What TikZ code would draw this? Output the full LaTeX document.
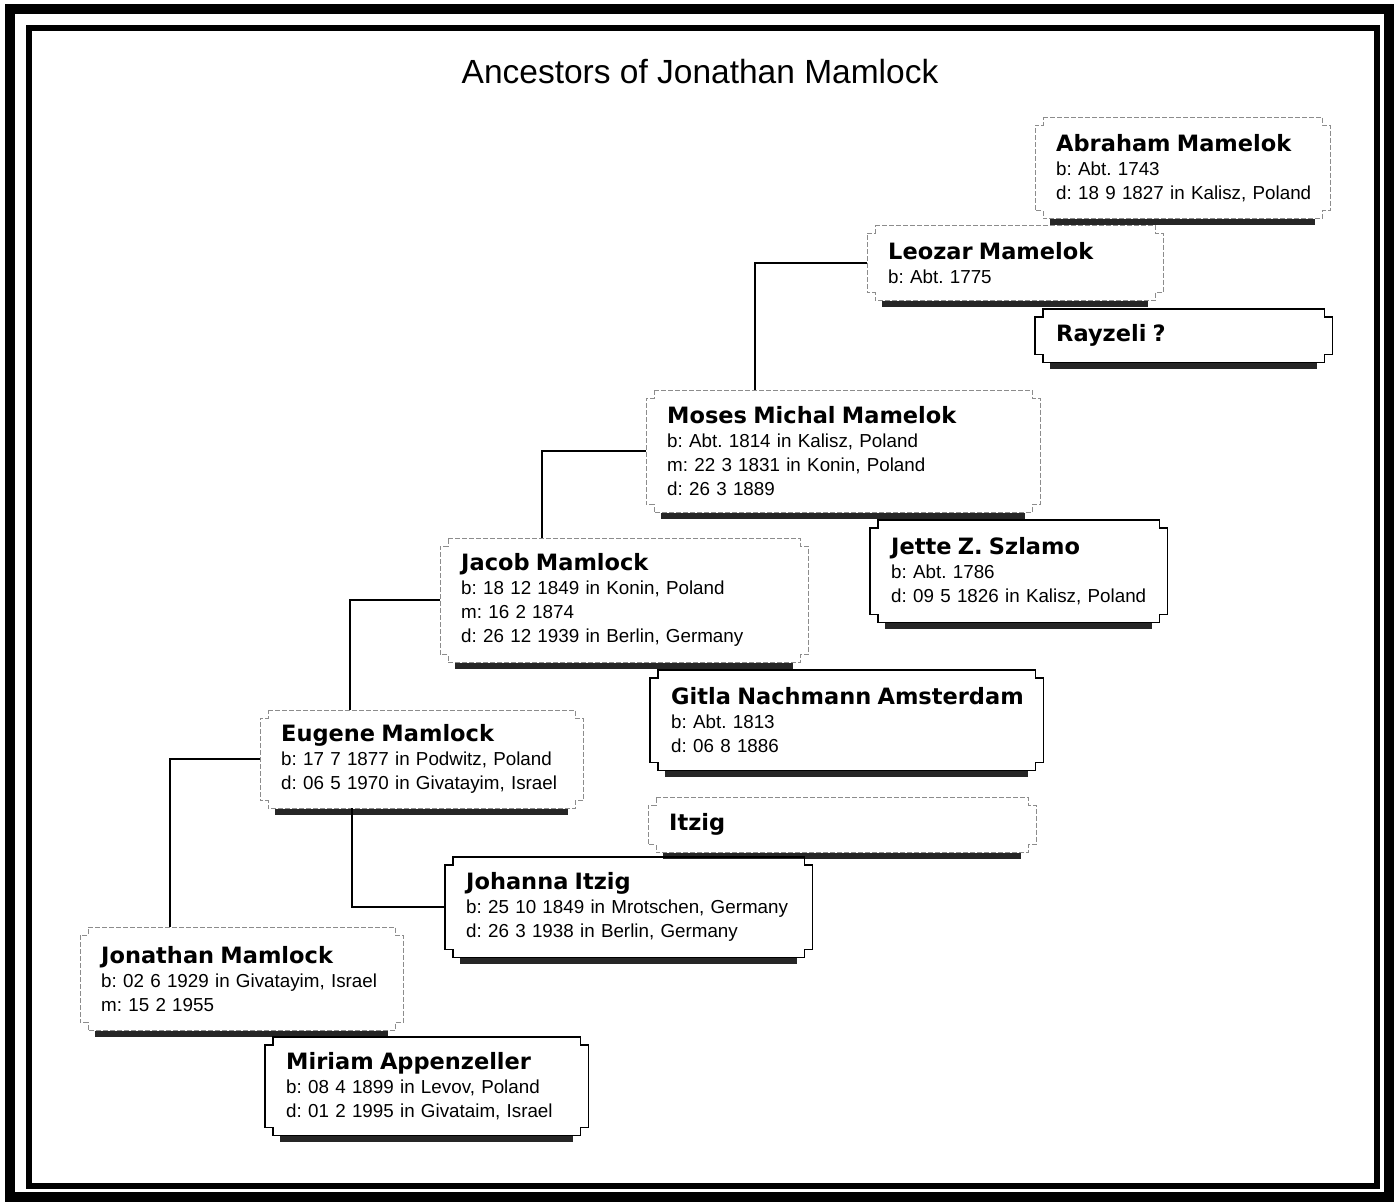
\documentclass[tikz,border=0pt]{standalone}
\usepackage{fontspec}
\setmainfont{Liberation Sans}
\newfontfamily\namefont{DejaVu Sans}
\usetikzlibrary{positioning}
\newcommand{\pname}[1]{\mbox{\namefont\bfseries\fontsize{22.5}{26}\selectfont #1}}
\newcommand{\pline}[1]{\mbox{#1}}
\frenchspacing

\begin{document}
\begin{tikzpicture}[x=1pt, y=-1pt,
    person/.style={anchor=north west, inner xsep=21pt, inner ysep=0pt, align=left,
      font=\fontsize{18.8}{24}\selectfont},
    male/.style={draw=black!45, line width=0.9pt, dash pattern=on 5pt off 2pt},
    female/.style={draw=black, line width=1.6pt},
    shadowbar/.style={line width=5.5pt, black!85},
    link/.style={draw, line width=2.2pt}]

  \useasboundingbox (0,0) rectangle (1395,1203);
  \draw[line width=10pt] (10,9) rectangle (1389,1197);
  \draw[line width=6pt] (29,28) rectangle (1377,1186);

  \node[font=\fontsize{33.5}{40}\selectfont] (title) at (700,72) {Ancestors of Jonathan Mamlock};

  \node[person, text width=253pt, minimum height=101pt] (abraham) at (1035,117)
    {\pname{Abraham Mamelok}\\\pline{b: Abt. 1743}\\\pline{d: 18 9 1827 in Kalisz, Poland}};
  \node[person, text width=254pt, minimum height=75pt] (leozar) at (867,225)
    {\pname{Leozar Mamelok}\\\pline{b: Abt. 1775}};
  \node[person, text width=255pt, minimum height=53pt] (rayzeli) at (1035,309)
    {\pname{Rayzeli ?}};
  \node[person, text width=352pt, minimum height=122pt] (moses) at (646,390)
    {\pname{Moses Michal Mamelok}\\\pline{b: Abt. 1814 in Kalisz, Poland}\\\pline{m: 22 3 1831 in Konin, Poland}\\\pline{d: 26 3 1889}};
  \node[person, text width=255pt, minimum height=102pt] (jette) at (870,520)
    {\pname{Jette Z. Szlamo}\\\pline{b: Abt. 1786}\\\pline{d: 09 5 1826 in Kalisz, Poland}};
  \node[person, text width=326pt, minimum height=124pt] (jacob) at (440,538)
    {\pname{Jacob Mamlock}\\\pline{b: 18 12 1849 in Konin, Poland}\\\pline{m: 16 2 1874}\\\pline{d: 26 12 1939 in Berlin, Germany}};
  \node[person, text width=351pt, minimum height=100pt] (gitla) at (650,670)
    {\pname{Gitla Nachmann Amsterdam}\\\pline{b: Abt. 1813}\\\pline{d: 06 8 1886}};
  \node[person, text width=281pt, minimum height=98pt] (eugene) at (260,710)
    {\pname{Eugene Mamlock}\\\pline{b: 17 7 1877 in Podwitz, Poland}\\\pline{d: 06 5 1970 in Givatayim, Israel}};
  \node[person, text width=346pt, minimum height=55pt] (itzig) at (648,797)
    {\pname{Itzig}};
  \node[person, text width=325pt, minimum height=100pt] (johanna) at (445,857)
    {\pname{Johanna Itzig}\\\pline{b: 25 10 1849 in Mrotschen, Germany}\\\pline{d: 26 3 1938 in Berlin, Germany}};
  \node[person, text width=281pt, minimum height=103pt] (jonathan) at (80,927)
    {\pname{Jonathan Mamlock}\\\pline{b: 02 6 1929 in Givatayim, Israel}\\\pline{m: 15 2 1955}};
  \node[person, text width=281pt, minimum height=98pt] (miriam) at (265,1037)
    {\pname{Miriam Appenzeller}\\\pline{b: 08 4 1899 in Levov, Poland}\\\pline{d: 01 2 1995 in Givataim, Israel}};

  \foreach \n/\kind in {abraham/male, leozar/male, rayzeli/female, moses/male, jette/female,
      jacob/male, gitla/female, eugene/male, itzig/male, johanna/female, jonathan/male, miriam/female} {
    \draw[shadowbar] ([shift={(15pt,-3.5pt)}]\n.south west) -- ([shift={(-15pt,-3.5pt)}]\n.south east);
    \draw[\kind] ([xshift=8pt]\n.north west) -- ([xshift=-8pt]\n.north east)
      -- ([shift={(-8pt,-8pt)}]\n.north east) -- ([yshift=-8pt]\n.north east)
      -- ([yshift=8pt]\n.south east) -- ([shift={(-8pt,8pt)}]\n.south east)
      -- ([xshift=-8pt]\n.south east) -- ([xshift=8pt]\n.south west)
      -- ([shift={(8pt,8pt)}]\n.south west) -- ([yshift=8pt]\n.south west)
      -- ([yshift=-8pt]\n.north west) -- ([shift={(8pt,-8pt)}]\n.north west) -- cycle;
  }

  \draw[link] (leozar.west) -| ([xshift=109pt]moses.north west);
  \draw[link] (moses.west) -| ([xshift=102pt]jacob.north west);
  \draw[link] (jacob.west) -| ([xshift=90pt]eugene.north west);
  \draw[link] (eugene.west) -| ([xshift=90pt]jonathan.north west);
  \draw[link] ([xshift=92pt]eugene.south west) |- (johanna.west);
\end{tikzpicture}
\end{document}
